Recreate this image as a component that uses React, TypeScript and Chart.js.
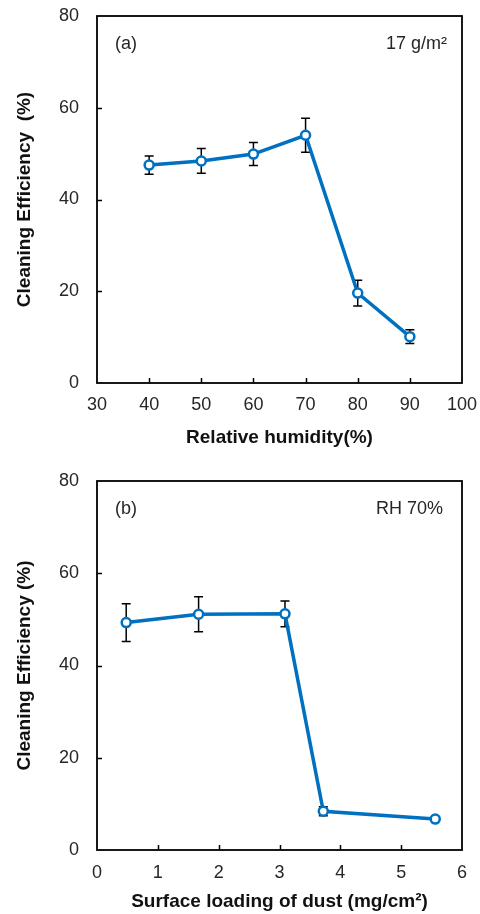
import React, { useEffect, useRef } from 'react';
import { Chart, registerables } from 'chart.js';

Chart.register(...registerables);

// Panel (a): cleaning efficiency vs relative humidity at 17 g/m²
const humidity = [40, 50, 60, 70, 80, 90];
const humidityEfficiency = [47.5, 48.4, 49.9, 54.0, 19.6, 10.1];
const humidityError = [2.0, 2.7, 2.5, 3.7, 2.8, 1.5];
const humidityTicks = [30, 40, 50, 60, 70, 80, 90, 100];

// Panel (b): cleaning efficiency vs surface dust loading at RH 70%
const dustLoading = [0.48, 1.67, 3.09, 3.72, 5.56];
const dustEfficiency = [49.3, 51.1, 51.2, 8.4, 6.7];
const dustError = [4.1, 3.8, 2.8, 1.0, 0.4];
const loadingTicks = [0, 1, 2, 3, 4, 5, 6];

const efficiencyTicks = [0, 20, 40, 60, 80];

const FONT = '"Liberation Sans", Arial, Helvetica, sans-serif';
const BLUE = '#0070C0';
const INK = '#262626';

type PanelProps = {
  xs: number[];
  ys: number[];
  errs: number[];
  xTicks: number[];
  yTicks: number[];
  xTitle: string;
  yTitle: string;
  tag: string;
  note: string;
  areaTop: number;
  areaBottom: number;
  height: number;
  noteRight: number;
  xTickPad: number;
  xTitleOffset: number;
};

function Panel(props: PanelProps) {
  const ref = useRef<HTMLCanvasElement>(null);

  useEffect(() => {
    const canvas = ref.current;
    if (!canvas) return;
    const {
      xs, ys, errs, xTicks, yTicks, xTitle, yTitle, tag, note,
      areaTop, areaBottom, height, noteRight, xTickPad, xTitleOffset,
    } = props;

    const decorations = {
      id: 'decorations',
      beforeDatasetsDraw(chart: any) {
        const ctx = chart.ctx;
        const sx = chart.scales.x;
        const sy = chart.scales.y;
        ctx.save();
        ctx.strokeStyle = '#000';
        ctx.lineWidth = 1.5;
        xs.forEach((xv, i) => {
          const px = sx.getPixelForValue(xv);
          const top = sy.getPixelForValue(ys[i] + errs[i]);
          const bot = sy.getPixelForValue(ys[i] - errs[i]);
          ctx.beginPath();
          ctx.moveTo(px, top);
          ctx.lineTo(px, bot);
          ctx.moveTo(px - 4.5, top);
          ctx.lineTo(px + 4.5, top);
          ctx.moveTo(px - 4.5, bot);
          ctx.lineTo(px + 4.5, bot);
          ctx.stroke();
        });
        ctx.restore();
      },
      afterDraw(chart: any) {
        const ctx = chart.ctx;
        const a = chart.chartArea;
        const sx = chart.scales.x;
        const sy = chart.scales.y;
        ctx.save();
        // plot frame
        ctx.strokeStyle = '#000';
        ctx.lineWidth = 1.8;
        ctx.strokeRect(a.left, a.top, a.right - a.left, a.bottom - a.top);
        // inward tick marks
        ctx.lineWidth = 1.5;
        ctx.beginPath();
        yTicks.slice(1, -1).forEach((v) => {
          const py = Math.round(sy.getPixelForValue(v)) + 0.5;
          ctx.moveTo(a.left, py);
          ctx.lineTo(a.left + 5, py);
        });
        xTicks.slice(1, -1).forEach((v) => {
          const px = Math.round(sx.getPixelForValue(v)) + 0.5;
          ctx.moveTo(px, a.bottom);
          ctx.lineTo(px, a.bottom - 5);
        });
        ctx.stroke();

        // axis titles
        ctx.fillStyle = '#111';
        ctx.font = `bold 19px ${FONT}`;
        ctx.textAlign = 'center';
        ctx.textBaseline = 'middle';
        ctx.fillText(xTitle, (a.left + a.right) / 2, a.bottom + xTitleOffset);
        ctx.save();
        ctx.translate(25, (a.top + a.bottom) / 2);
        ctx.rotate(-Math.PI / 2);
        ctx.fillText(yTitle, 0, 0);
        ctx.restore();

        // panel tag and condition note
        ctx.fillStyle = INK;
        ctx.font = `18px ${FONT}`;
        ctx.textAlign = 'left';
        ctx.fillText(tag, a.left + 18, a.top + 28);
        ctx.textAlign = 'right';
        ctx.fillText(note, noteRight, a.top + 28);
        ctx.restore();
      },
    };

    const noPad = (s: any) => {
      s.paddingLeft = 0;
      s.paddingRight = 0;
      s.paddingTop = 0;
      s.paddingBottom = 0;
    };

    const chart = new Chart(canvas, {
      type: 'line',
      data: {
        datasets: [
          {
            data: xs.map((x, i) => ({ x, y: ys[i] })),
            borderColor: BLUE,
            borderWidth: 3.5,
            pointRadius: 4.5,
            pointBorderWidth: 2.5,
            pointBackgroundColor: '#fff',
            pointBorderColor: BLUE,
            tension: 0,
          },
        ],
      },
      options: {
        responsive: false,
        animation: false,
        events: [],
        layout: { padding: { top: areaTop, right: 18, left: 0, bottom: 0 } },
        plugins: { legend: { display: false }, tooltip: { enabled: false } },
        scales: {
          x: {
            type: 'linear',
            min: xTicks[0],
            max: xTicks[xTicks.length - 1],
            afterBuildTicks: (s: any) => {
              s.ticks = xTicks.map((v) => ({ value: v }));
            },
            afterFit: (s: any) => {
              s.height = height - areaBottom;
              noPad(s);
            },
            grid: { display: false, drawTicks: false },
            border: { display: false },
            ticks: { color: INK, font: { family: FONT, size: 18 }, padding: xTickPad, maxRotation: 0, autoSkip: false },
          },
          y: {
            type: 'linear',
            min: yTicks[0],
            max: yTicks[yTicks.length - 1],
            afterBuildTicks: (s: any) => {
              s.ticks = yTicks.map((v) => ({ value: v }));
            },
            afterFit: (s: any) => {
              s.width = 97;
              noPad(s);
            },
            grid: { display: false, drawTicks: false },
            border: { display: false },
            ticks: { color: INK, font: { family: FONT, size: 18 }, padding: 18 },
          },
        },
      },
      plugins: [decorations],
    });
    return () => chart.destroy();
  }, []);

  return <canvas ref={ref} width={480} height={props.height} style={{ display: 'block' }} />;
}

export default function App() {
  return (
    <div style={{ position: 'absolute', left: 0, top: 0, width: 480, height: 914, background: '#fff' }}>
      <Panel
        xs={humidity}
        ys={humidityEfficiency}
        errs={humidityError}
        xTicks={humidityTicks}
        yTicks={efficiencyTicks}
        xTitle="Relative humidity(%)"
        yTitle="Cleaning Efficiency  (%)"
        tag="(a)"
        note="17 g/m²"
        noteRight={447}
        areaTop={16}
        areaBottom={383}
        height={457}
        xTickPad={11}
        xTitleOffset={55}
      />
      <Panel
        xs={dustLoading}
        ys={dustEfficiency}
        errs={dustError}
        xTicks={loadingTicks}
        yTicks={efficiencyTicks}
        xTitle="Surface loading of dust (mg/cm²)"
        yTitle="Cleaning Efficiency (%)"
        tag="(b)"
        note="RH 70%"
        noteRight={443}
        areaTop={24}
        areaBottom={393}
        height={457}
        xTickPad={12}
        xTitleOffset={52}
      />
    </div>
  );
}
